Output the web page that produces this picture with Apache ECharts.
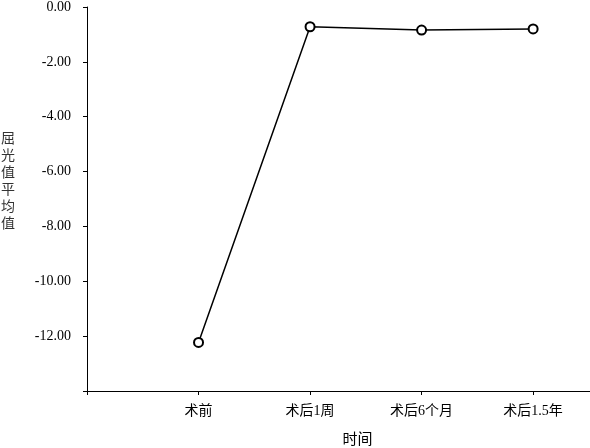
<!DOCTYPE html>
<html>
<head>
<meta charset="utf-8">
<script src="https://cdn.jsdelivr.net/npm/echarts@6/dist/echarts.min.js"></script>
<style>html,body{margin:0;padding:0;background:#fff}#c{width:590px;height:448px}</style>
</head>
<body>
<div id="c"></div>
<script>
const categories = ['术前', '术后1周', '术后6个月', '术后1.5年'];
const values = [-12.23, -0.72, -0.84, -0.80];
const xName = '时间';
const yName = '屈光值平均值';

const chart = echarts.init(document.getElementById('c'), null, {renderer: 'canvas'});
const serif = 'Liberation Serif, "Noto Sans CJK SC", serif';
chart.setOption({
  animation: false,
  backgroundColor: '#fff',
  grid: {left: 87, right: 0, top: 7, bottom: 57, containLabel: false, outerBoundsMode: 'none'},
  xAxis: {
    type: 'value',
    min: 0,
    max: 4.51,
    interval: 1,
    splitLine: {show: false},
    axisLine: {onZero: false, lineStyle: {color: '#000', width: 1}},
    axisTick: {show: true, inside: false, length: 4, lineStyle: {color: '#000'}},
    axisLabel: {
      color: '#000', fontSize: 14, fontFamily: serif, margin: 13,
      showMaxLabel: false,
      formatter: v => categories[Math.round(v) - 1] || ''
    },
    name: xName,
    nameLocation: 'middle',
    nameGap: 42,
    nameTextStyle: {color: '#000', fontSize: 15, fontFamily: serif, padding: [0, 0, 0, 38]}
  },
  yAxis: {
    type: 'value',
    min: -14,
    max: 0,
    interval: 2,
    splitLine: {show: false},
    axisLine: {show: true, onZero: false, lineStyle: {color: '#000', width: 1}},
    axisTick: {show: true, inside: false, length: 4, lineStyle: {color: '#000'}},
    axisLabel: {
      color: '#000', fontSize: 14, fontFamily: serif, margin: 16,
      formatter: v => v === -14 ? '' : v.toFixed(2)
    },
    name: yName.split('').join('\n') + '\n\n ',
    nameLocation: 'middle',
    nameRotate: 0,
    nameGap: 72,
    nameTextStyle: {color: '#333', fontSize: 14, lineHeight: 17, fontFamily: serif}
  },
  series: [{
    type: 'line',
    data: categories.map((c, i) => [i + 1, values[i]]),
    symbol: 'emptyCircle',
    symbolSize: 9,
    lineStyle: {color: '#000', width: 1.5},
    itemStyle: {color: '#000', borderColor: '#000', borderWidth: 1}
  }]
});
</script>
</body>
</html>
